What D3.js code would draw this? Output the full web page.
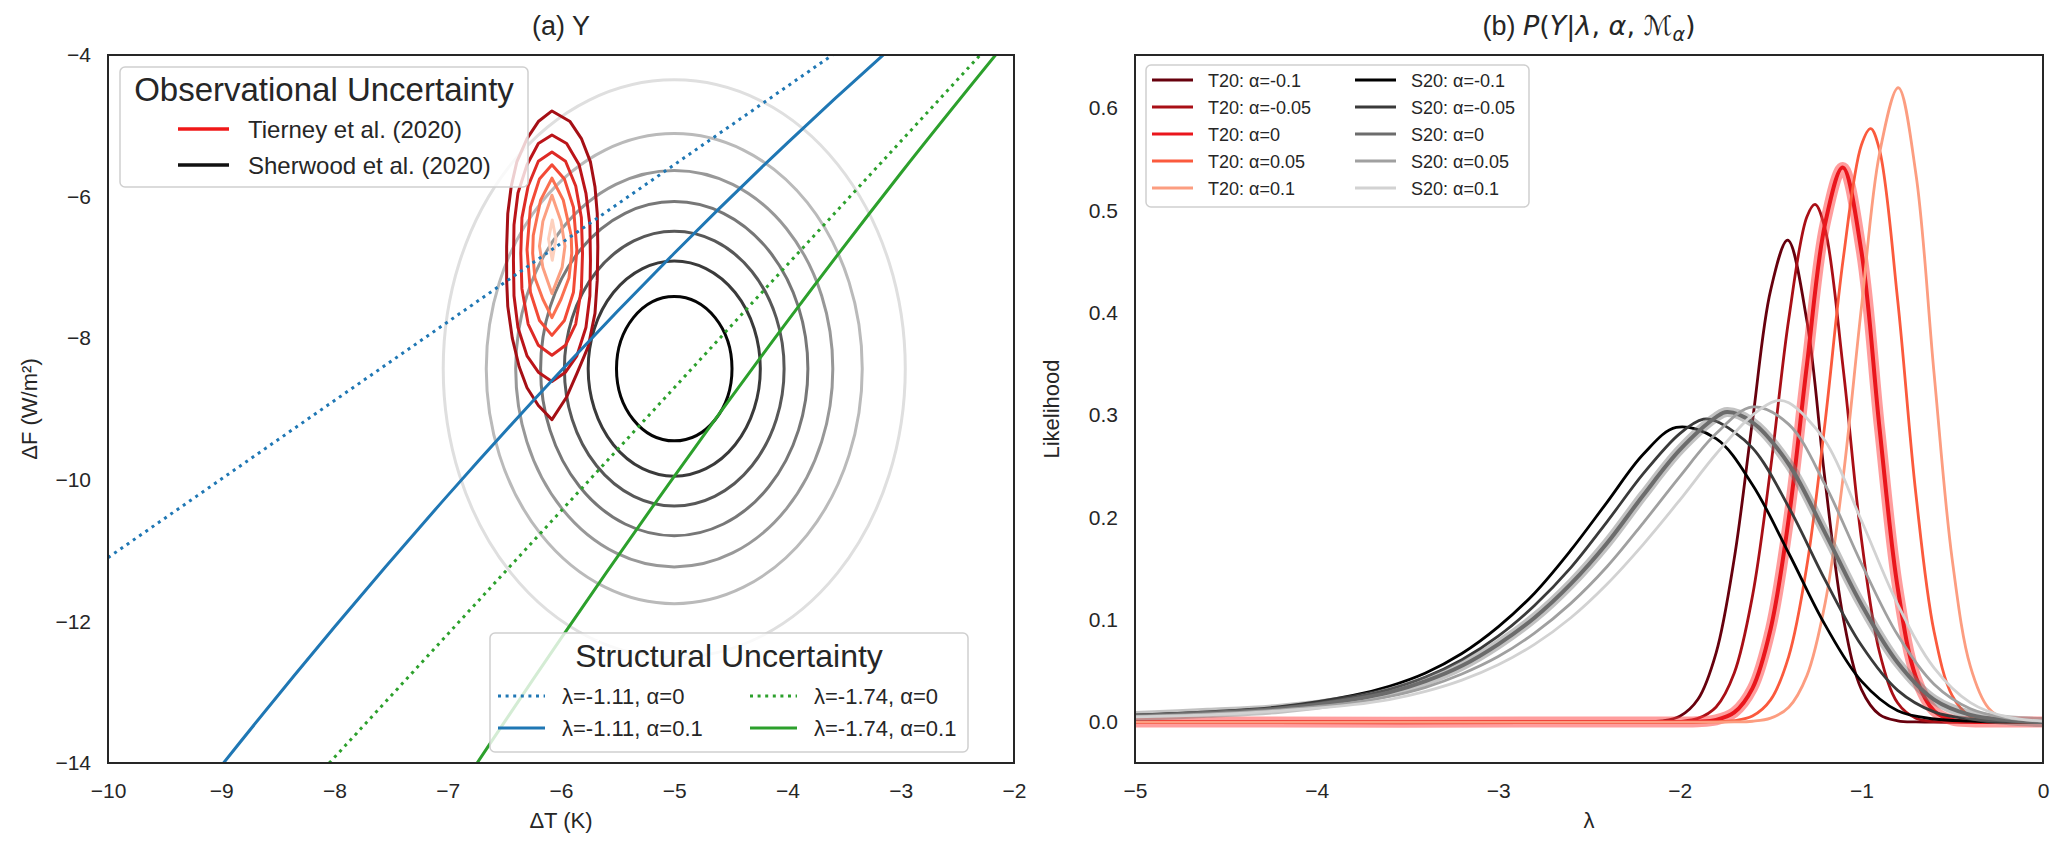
<!DOCTYPE html>
<html><head><meta charset="utf-8">
<script src="https://cdn.jsdelivr.net/npm/d3@7"></script>
<style>
body{margin:0;background:#fff;}
text{font-family:"Liberation Sans",Arial,sans-serif;fill:#262626;}
</style>
</head><body>
<svg id="c" width="2067" height="853"></svg>
<script>
// ---------------- DATA ----------------
// Panel (a)
const xTicksA = [-10,-9,-8,-7,-6,-5,-4,-3,-2];
const yTicksA = [-4,-6,-8,-10,-12,-14];
const sherwoodCenter = [-5.0, -8.43];     // ΔT, ΔF
const sherwoodSigma  = [1.0, 2.0];        // σT, σF
const sherwoodRadii  = [0.51,0.76,0.97,1.18,1.40,1.66,2.04];
const sherwoodColors = ["#050505","#3a3a3a","#585858","#777777","#989898","#bababa","#dfdfdf"];

const tierneyContours = [
  [[-6.08,-4.79],[-5.92,-4.94],[-5.82,-5.18],[-5.74,-5.51],[-5.70,-5.86],[-5.68,-6.24],[-5.675,-6.71],[-5.68,-7.18],[-5.70,-7.65],[-5.76,-8.12],[-5.86,-8.50],[-5.95,-8.83],[-6.08,-9.15],[-6.20,-8.95],[-6.30,-8.70],[-6.37,-8.40],[-6.43,-8.00],[-6.47,-7.55],[-6.48,-7.18],[-6.48,-6.71],[-6.47,-6.24],[-6.44,-5.86],[-6.39,-5.51],[-6.30,-5.18],[-6.20,-4.94]],
  [[-6.08,-5.13],[-5.95,-5.25],[-5.84,-5.55],[-5.78,-5.95],[-5.745,-6.40],[-5.74,-6.90],[-5.745,-7.40],[-5.78,-7.85],[-5.86,-8.25],[-5.96,-8.48],[-6.08,-8.61],[-6.20,-8.48],[-6.30,-8.25],[-6.38,-7.85],[-6.415,-7.40],[-6.42,-6.90],[-6.415,-6.40],[-6.38,-5.95],[-6.30,-5.55],[-6.20,-5.25]],
  [[-6.08,-5.37],[-5.96,-5.50],[-5.87,-5.85],[-5.82,-6.30],[-5.81,-6.80],[-5.82,-7.30],[-5.87,-7.80],[-5.96,-8.10],[-6.08,-8.24],[-6.20,-8.10],[-6.29,-7.80],[-6.345,-7.30],[-6.355,-6.80],[-6.345,-6.30],[-6.29,-5.85],[-6.20,-5.50]],
  [[-6.08,-5.55],[-5.97,-5.75],[-5.89,-6.15],[-5.86,-6.75],[-5.89,-7.35],[-5.97,-7.75],[-6.08,-7.96],[-6.19,-7.75],[-6.27,-7.35],[-6.30,-6.75],[-6.27,-6.15],[-6.19,-5.75]],
  [[-6.08,-5.74],[-5.98,-6.05],[-5.91,-6.55],[-5.905,-6.80],[-5.93,-7.15],[-6.00,-7.45],[-6.08,-7.71],[-6.16,-7.45],[-6.23,-7.15],[-6.25,-6.80],[-6.245,-6.55],[-6.18,-6.05]],
  [[-6.08,-5.98],[-6.00,-6.35],[-5.965,-6.70],[-5.99,-7.00],[-6.08,-7.37],[-6.16,-7.00],[-6.19,-6.70],[-6.16,-6.35]],
  [[-6.077,-6.33],[-6.045,-6.60],[-6.077,-6.90],[-6.11,-6.60]]
];
const tierneyColors = ["#a50f15","#bb1419","#de2a25","#f34a36","#fb7050","#fc9f81","#fdd0bd"];

const lineT = [-10,-9,-8,-7,-6,-5,-4,-3,-2];
const F_l111_a0   = [-11.1,-9.99,-8.88,-7.77,-6.66,-5.55,-4.44,-3.33,-2.22];
const F_l111_a01  = [-16.1,-14.04,-12.08,-10.22,-8.46,-6.8,-5.24,-3.78,-2.42];
const F_l174_a0   = [-17.4,-15.66,-13.92,-12.18,-10.44,-8.7,-6.96,-5.22,-3.48];
const F_l174_a01  = [-22.4,-19.71,-17.12,-14.63,-12.24,-9.95,-7.76,-5.67,-3.68];
const structLabels = ["λ=-1.11, α=0","λ=-1.11, α=0.1","λ=-1.74, α=0","λ=-1.74, α=0.1"];
const structColors = ["#1f77b4","#1f77b4","#2ca02c","#2ca02c"];
const structDashed = [true,false,true,false];
const obsLabels = ["Tierney et al. (2020)","Sherwood et al. (2020)"];
const obsColors = ["#f01818","#111111"];

// Panel (b)
const xTicksB = [-5,-4,-3,-2,-1,0];
const yTicksB = [0,0.1,0.2,0.3,0.4,0.5,0.6];
const t20Labels = ["T20: α=-0.1","T20: α=-0.05","T20: α=0","T20: α=0.05","T20: α=0.1"];
const s20Labels = ["S20: α=-0.1","S20: α=-0.05","S20: α=0","S20: α=0.05","S20: α=0.1"];
const t20Colors = ["#67000d","#a90f16","#ea161c","#fb5a3d","#fc9d80"];
const s20Colors = ["#000000","#3a3a3a","#6c6c6c","#a0a0a0","#d2d2d2"];

const t20_m010 = [[-5,0],[-2.3,0],[-2.2,0.0002],[-2.1,0.0011],[-2.0,0.0057],[-1.9,0.0223],[-1.8,0.0677],[-1.7,0.160],[-1.6,0.294],[-1.5,0.422],[-1.406,0.471],[-1.3,0.392],[-1.2,0.236],[-1.1,0.102],[-1.0,0.032],[-0.9,0.0072],[-0.8,0.0012],[-0.7,0.0001],[-0.6,0],[0,0]];
const t20_m005 = [[-5,0],[-2.2,0],[-2.1,0.0001],[-2.0,0.0007],[-1.9,0.0036],[-1.8,0.0148],[-1.7,0.048],[-1.6,0.123],[-1.5,0.248],[-1.4,0.394],[-1.3,0.494],[-1.255,0.506],[-1.2,0.482],[-1.1,0.345],[-1.0,0.179],[-0.9,0.068],[-0.8,0.0186],[-0.7,0.0037],[-0.6,0.0005],[-0.5,0],[0,0]];
const t20_000  = [[-5,0],[-2.1,0],[-2.0,0.0001],[-1.9,0.0004],[-1.8,0.0022],[-1.7,0.0095],[-1.6,0.033],[-1.5,0.091],[-1.4,0.199],[-1.3,0.349],[-1.2,0.487],[-1.103,0.542],[-1.0,0.460],[-0.9,0.287],[-0.8,0.131],[-0.7,0.044],[-0.6,0.011],[-0.5,0.002],[-0.4,0.0003],[-0.3,0],[0,0]];
const t20_p005 = [[-5,0],[-1.9,0],[-1.8,0.0002],[-1.7,0.0013],[-1.6,0.0059],[-1.5,0.0217],[-1.4,0.0643],[-1.3,0.153],[-1.2,0.293],[-1.1,0.453],[-1.0,0.564],[-0.949,0.580],[-0.9,0.559],[-0.8,0.412],[-0.7,0.223],[-0.6,0.0885],[-0.5,0.0259],[-0.4,0.0055],[-0.3,0.0009],[-0.2,0.0001],[-0.1,0],[0,0]];
const t20_p010 = [[-5,0],[-1.8,0],[-1.7,0.0001],[-1.6,0.0008],[-1.5,0.0038],[-1.4,0.0145],[-1.3,0.0454],[-1.2,0.116],[-1.1,0.240],[-1.0,0.405],[-0.9,0.556],[-0.797,0.620],[-0.7,0.536],[-0.6,0.341],[-0.5,0.159],[-0.4,0.0545],[-0.3,0.0137],[-0.2,0.0025],[-0.1,0.0003],[0,0]];

const s20_m010 = [[-5,0.007],[-4.6,0.010],[-4.2,0.015],[-3.8,0.026],[-3.6,0.035],[-3.4,0.048],[-3.2,0.067],[-3.0,0.093],[-2.8,0.126],[-2.6,0.168],[-2.4,0.215],[-2.2,0.262],[-2.02,0.288],[-1.8,0.277],[-1.6,0.232],[-1.4,0.165],[-1.2,0.095],[-1.0,0.040],[-0.8,0.011],[-0.6,0.003],[-0.4,0.001],[-0.2,0],[0,0]];
const s20_m005 = [[-5,0.0065],[-4.6,0.0095],[-4.2,0.014],[-3.8,0.024],[-3.6,0.032],[-3.4,0.044],[-3.2,0.061],[-3.0,0.084],[-2.8,0.114],[-2.6,0.151],[-2.4,0.196],[-2.2,0.243],[-2.0,0.282],[-1.87,0.296],[-1.8,0.294],[-1.6,0.268],[-1.4,0.210],[-1.2,0.139],[-1.0,0.075],[-0.8,0.031],[-0.6,0.010],[-0.4,0.003],[-0.2,0.001],[0,0]];
const s20_000  = [[-5,0.006],[-4.6,0.009],[-4.2,0.013],[-3.8,0.022],[-3.6,0.029],[-3.4,0.040],[-3.2,0.055],[-3.0,0.076],[-2.8,0.102],[-2.6,0.135],[-2.4,0.175],[-2.2,0.222],[-2.0,0.266],[-1.8,0.298],[-1.74,0.303],[-1.6,0.293],[-1.4,0.252],[-1.2,0.185],[-1.0,0.115],[-0.8,0.058],[-0.6,0.022],[-0.4,0.007],[-0.2,0.002],[0,0]];
const s20_p005 = [[-5,0.0055],[-4.6,0.008],[-4.2,0.012],[-3.8,0.019],[-3.6,0.025],[-3.4,0.034],[-3.2,0.047],[-3.0,0.064],[-2.8,0.087],[-2.6,0.116],[-2.4,0.152],[-2.2,0.195],[-2.0,0.240],[-1.8,0.282],[-1.6,0.308],[-1.4,0.291],[-1.2,0.232],[-1.0,0.155],[-0.8,0.085],[-0.6,0.037],[-0.4,0.013],[-0.2,0.004],[0,0.001]];
const s20_p010 = [[-5,0.005],[-4.6,0.007],[-4.2,0.011],[-3.8,0.017],[-3.6,0.022],[-3.4,0.030],[-3.2,0.041],[-3.0,0.056],[-2.8,0.076],[-2.6,0.102],[-2.4,0.135],[-2.2,0.174],[-2.0,0.217],[-1.8,0.262],[-1.6,0.300],[-1.47,0.314],[-1.4,0.312],[-1.2,0.275],[-1.0,0.197],[-0.8,0.115],[-0.6,0.053],[-0.4,0.019],[-0.2,0.005],[0,0.001]];

// ---------------- DRAW ----------------
const svg = d3.select("#c");
const A = {l:108, r:1014, t:55, b:763};
const B = {l:1135, r:2043, t:55, b:763};
const xA = d3.scaleLinear().domain([-10,-2]).range([A.l,A.r]);
const yA = d3.scaleLinear().domain([-14,-4]).range([A.b,A.t]);
const xB = d3.scaleLinear().domain([-5,0]).range([B.l,B.r]);
const yB = d3.scaleLinear().domain([-0.040,0.652]).range([B.b,B.t]);
const TICK = 21, EDGE = "#262626";

const defs = svg.append("defs");
defs.append("clipPath").attr("id","clipA").append("rect").attr("x",A.l).attr("y",A.t).attr("width",A.r-A.l).attr("height",A.b-A.t);
defs.append("clipPath").attr("id","clipB").append("rect").attr("x",B.l).attr("y",B.t).attr("width",B.r-B.l).attr("height",B.b-B.t);

function axes(P, x, y, xt, yt, yfmt){
  const gx = svg.append("g").attr("transform",`translate(0,${P.b})`)
    .call(d3.axisBottom(x).tickValues(xt).tickSize(0).tickPadding(20).tickFormat(d3.format("d")));
  gx.select(".domain").remove();
  gx.selectAll("text").attr("font-size",TICK).attr("font-family","Liberation Sans, Arial, sans-serif").attr("fill","#262626");
  const gy = svg.append("g").attr("transform",`translate(${P.l},0)`)
    .call(d3.axisLeft(y).tickValues(yt).tickSize(0).tickPadding(17).tickFormat(yfmt));
  gy.select(".domain").remove();
  gy.selectAll("text").attr("font-size",TICK).attr("font-family","Liberation Sans, Arial, sans-serif").attr("fill","#262626");
}
axes(A, xA, yA, xTicksA, yTicksA, d3.format("d"));
axes(B, xB, yB, xTicksB, yTicksB, d3.format(".1f"));

// ---- Panel (a) marks
const gA = svg.append("g").attr("clip-path","url(#clipA)");
sherwoodRadii.slice().reverse().forEach((r,i)=>{
  const k = sherwoodRadii.length-1-i;
  gA.append("ellipse")
    .attr("cx", xA(sherwoodCenter[0])).attr("cy", yA(sherwoodCenter[1]))
    .attr("rx", xA(sherwoodCenter[0]+r*sherwoodSigma[0]) - xA(sherwoodCenter[0]))
    .attr("ry", yA(sherwoodCenter[1]) - yA(sherwoodCenter[1]+r*sherwoodSigma[1]))
    .attr("fill","none").attr("stroke",sherwoodColors[k]).attr("stroke-width",3);
});
const polyA = d3.line().x(d=>xA(d[0])).y(d=>yA(d[1])).curve(d3.curveLinearClosed);
tierneyContours.forEach((c,i)=>{
  gA.append("path").attr("d",polyA(c)).attr("fill","none")
    .attr("stroke",tierneyColors[i]).attr("stroke-width",3).attr("stroke-linejoin","round");
});
const lineA = d3.line().x((d,i)=>xA(lineT[i])).y(d=>yA(d)).curve(d3.curveMonotoneX);
[F_l111_a0,F_l111_a01,F_l174_a0,F_l174_a01].forEach((F,i)=>{
  const p = gA.append("path").attr("d",lineA(F)).attr("fill","none")
    .attr("stroke",structColors[i]).attr("stroke-width",3);
  if(structDashed[i]) p.attr("stroke-dasharray","3,4.6");
});

// frame A
svg.append("rect").attr("x",A.l).attr("y",A.t).attr("width",A.r-A.l).attr("height",A.b-A.t)
  .attr("fill","none").attr("stroke",EDGE).attr("stroke-width",2);

// legend: Observational
const L1 = svg.append("g");
L1.append("rect").attr("x",120).attr("y",67).attr("width",408).attr("height",120).attr("rx",5)
  .attr("fill","#fff").attr("fill-opacity",0.8).attr("stroke","#cfcfcf").attr("stroke-width",1.5);
L1.append("text").attr("x",324).attr("y",101).attr("text-anchor","middle").attr("font-size",33).text("Observational Uncertainty");
obsLabels.forEach((t,i)=>{
  const yy = 129 + i*36;
  L1.append("line").attr("x1",178).attr("x2",229).attr("y1",yy).attr("y2",yy).attr("stroke",obsColors[i]).attr("stroke-width",3.5);
  L1.append("text").attr("x",248).attr("y",yy+9).attr("font-size",24).text(t);
});
// legend: Structural
const L2 = svg.append("g");
L2.append("rect").attr("x",490).attr("y",633).attr("width",478).attr("height",119).attr("rx",5)
  .attr("fill","#fff").attr("fill-opacity",0.8).attr("stroke","#cfcfcf").attr("stroke-width",1.5);
L2.append("text").attr("x",729).attr("y",667).attr("text-anchor","middle").attr("font-size",32).text("Structural Uncertainty");
structLabels.forEach((t,i)=>{
  const col = i<2?0:1, row = i%2;
  const x0 = col===0?498:750, yy = 696 + row*32;
  const ln = L2.append("line").attr("x1",x0).attr("x2",x0+47).attr("y1",yy).attr("y2",yy)
    .attr("stroke",structColors[i]).attr("stroke-width",3);
  if(structDashed[i]) ln.attr("stroke-dasharray","3,4.6");
  L2.append("text").attr("x",x0+64).attr("y",yy+8).attr("font-size",22).text(t);
});

// ---- Panel (b) marks
const gB = svg.append("g").attr("clip-path","url(#clipB)");
const lineB = d3.line().x(d=>xB(d[0])).y(d=>yB(d[1])).curve(d3.curveCatmullRom.alpha(0.5));
const t20 = [t20_m010,t20_m005,t20_000,t20_p005,t20_p010];
const s20 = [s20_m010,s20_m005,s20_000,s20_p005,s20_p010];
t20.forEach((s,i)=>{
  if(i===2){
    gB.append("path").attr("d",lineB(s)).attr("fill","none").attr("stroke","#ff3c3c")
      .attr("stroke-opacity",0.5).attr("stroke-width",11).attr("stroke-linejoin","round");
    gB.append("path").attr("d",lineB(s)).attr("fill","none").attr("stroke",t20Colors[i]).attr("stroke-width",4);
  } else {
    gB.append("path").attr("d",lineB(s)).attr("fill","none").attr("stroke",t20Colors[i]).attr("stroke-width",2.8);
  }
});
s20.forEach((s,i)=>{
  if(i===2){
    gB.append("path").attr("d",lineB(s)).attr("fill","none").attr("stroke","#777")
      .attr("stroke-opacity",0.45).attr("stroke-width",10).attr("stroke-linejoin","round");
    gB.append("path").attr("d",lineB(s)).attr("fill","none").attr("stroke",s20Colors[i]).attr("stroke-width",4);
  } else {
    gB.append("path").attr("d",lineB(s)).attr("fill","none").attr("stroke",s20Colors[i]).attr("stroke-width",2.8);
  }
});
svg.append("rect").attr("x",B.l).attr("y",B.t).attr("width",B.r-B.l).attr("height",B.b-B.t)
  .attr("fill","none").attr("stroke",EDGE).attr("stroke-width",2);

// legend (b)
const L3 = svg.append("g");
L3.append("rect").attr("x",1146).attr("y",65).attr("width",383).attr("height",142).attr("rx",5)
  .attr("fill","#fff").attr("fill-opacity",0.8).attr("stroke","#cfcfcf").attr("stroke-width",1.5);
[t20Labels,s20Labels].forEach((labs,col)=>{
  const cols = col===0?t20Colors:s20Colors;
  labs.forEach((t,i)=>{
    const yy = 80 + i*27;
    const x0 = col===0?1152:1355;
    L3.append("line").attr("x1",x0).attr("x2",x0+41).attr("y1",yy).attr("y2",yy)
      .attr("stroke",cols[i]).attr("stroke-width",3);
    L3.append("text").attr("x",x0+56).attr("y",yy+7).attr("font-size",18).text(t);
  });
});

// titles & labels
svg.append("text").attr("x",(A.l+A.r)/2).attr("y",35).attr("text-anchor","middle").attr("font-size",27).text("(a) Y");
const tb = svg.append("text").attr("x",(B.l+B.r)/2).attr("y",35).attr("text-anchor","middle").attr("font-size",27);
tb.append("tspan").text("(b)  ");
const M = "DejaVu Sans";
tb.append("tspan").attr("font-family",M).attr("font-style","italic").text("P");
tb.append("tspan").attr("font-family",M).text("(");
tb.append("tspan").attr("font-family",M).attr("font-style","italic").text("Y");
tb.append("tspan").attr("font-family",M).text("|");
tb.append("tspan").attr("font-family",M).attr("font-style","italic").text("λ");
tb.append("tspan").attr("font-family",M).text(", ");
tb.append("tspan").attr("font-family",M).attr("font-style","italic").text("α");
tb.append("tspan").attr("font-family",M).text(", ");
tb.append("tspan").attr("font-family",M).text("ℳ");
tb.append("tspan").attr("font-family",M).attr("font-style","italic").attr("font-size",19).attr("dy",6).text("α");
tb.append("tspan").attr("font-family",M).attr("dy",-6).text(")");

svg.append("text").attr("x",(A.l+A.r)/2).attr("y",828).attr("text-anchor","middle").attr("font-size",22).text("ΔT (K)");
svg.append("text").attr("x",(B.l+B.r)/2).attr("y",828).attr("text-anchor","middle").attr("font-size",22).text("λ");
svg.append("text").attr("transform",`translate(37,${(A.t+A.b)/2}) rotate(-90)`).attr("text-anchor","middle").attr("font-size",22).text("ΔF (W/m²)");
svg.append("text").attr("transform",`translate(1059,${(B.t+B.b)/2}) rotate(-90)`).attr("text-anchor","middle").attr("font-size",22).text("Likelihood");
</script>
</body></html>
